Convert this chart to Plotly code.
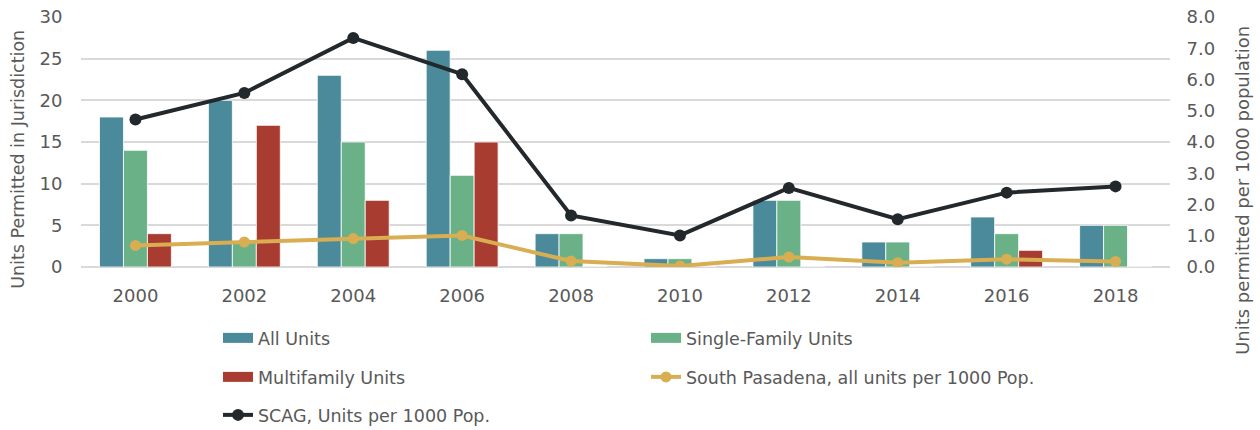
import plotly.graph_objects as go

years = ["2000", "2002", "2004", "2006", "2008", "2010", "2012", "2014", "2016", "2018"]
all_units = [18, 20, 23, 26, 4, 1, 8, 3, 6, 5]
single_family = [14, 3, 15, 11, 4, 1, 8, 3, 4, 5]
multifamily = [4, 17, 8, 15, 0, 0, 0, 0, 2, 0]
south_pasadena = [0.69, 0.80, 0.91, 1.01, 0.19, 0.03, 0.32, 0.14, 0.25, 0.18]
scag = [4.72, 5.57, 7.33, 6.17, 1.65, 1.01, 2.53, 1.53, 2.38, 2.58]

C_ALL = "#4A8A9A"
C_SF = "#6AB187"
C_MF = "#A93C30"
C_SP = "#D9AE52"
C_SCAG = "#22282B"
TXT = "#595959"
FONT = "DejaVu Sans, Verdana, sans-serif"

fig = go.Figure()
bar_line = dict(color="white", width=0.8)
fig.add_trace(go.Bar(x=years, y=all_units, name="All Units", marker=dict(color=C_ALL, line=bar_line), showlegend=False))
fig.add_trace(go.Bar(x=years, y=single_family, name="Single-Family Units", marker=dict(color=C_SF, line=bar_line), showlegend=False))
fig.add_trace(go.Bar(x=years, y=multifamily, name="Multifamily Units", marker=dict(color=C_MF, line=bar_line), showlegend=False))

# legend-only entries for the bar series (wide rectangular swatches)
for nm, col, lg, rk in [("All Units", C_ALL, "legend", 1), ("Single-Family Units", C_SF, "legend", 2),
                        ("Multifamily Units", C_MF, "legend2", 1)]:
    fig.add_trace(go.Scatter(x=[None], y=[None], mode="lines", name=nm, line=dict(color=col, width=10),
                             legend=lg, legendrank=rk, hoverinfo="skip"))

fig.add_trace(go.Scatter(x=years, y=south_pasadena, name="South Pasadena, all units per 1000 Pop.", yaxis="y2",
                         mode="lines+markers", line=dict(color=C_SP, width=4), marker=dict(size=11, color=C_SP),
                         legend="legend2", legendrank=2))
fig.add_trace(go.Scatter(x=years, y=scag, name="SCAG, Units per 1000 Pop.", yaxis="y2",
                         mode="lines+markers", line=dict(color=C_SCAG, width=4), marker=dict(size=12, color=C_SCAG),
                         legend="legend3", legendrank=1))

legfont = dict(family=FONT, size=17.5, color=TXT)
legcommon = dict(orientation="h", xanchor="left", yanchor="middle", entrywidth=383, entrywidthmode="pixels",
                 font=legfont, bgcolor="rgba(0,0,0,0)", traceorder="normal")

tick_hide = "rgba(0,0,0,0)"
fig.update_layout(
    width=1260, height=430,
    margin=dict(l=81, r=90, t=17, b=163, autoexpand=False),
    paper_bgcolor="white", plot_bgcolor="white",
    barmode="group", bargap=0.34, bargroupgap=0,
    font=dict(family=FONT, color=TXT),
    xaxis=dict(type="category", tickfont=dict(size=18, color=TXT), showgrid=False, showline=False,
               ticks="outside", ticklen=12, tickcolor=tick_hide, range=[-0.5, 9.5]),
    yaxis=dict(range=[0, 30], dtick=5, showgrid=True, gridcolor="#D9D9D9", gridwidth=1.5,
               zeroline=True, zerolinecolor="#D9D9D9", zerolinewidth=1.5,
               tickfont=dict(size=18, color=TXT), ticks="outside", ticklen=14, tickcolor=tick_hide),
    yaxis2=dict(range=[0, 8], dtick=1, tickformat=".1f", overlaying="y", side="right", showgrid=False,
                zeroline=False, tickfont=dict(size=18, color=TXT), ticks="outside", ticklen=12, tickcolor=tick_hide),
    legend=dict(x=0.1258, y=-0.284, **legcommon),
    legend2=dict(x=0.1258, y=-0.44, **legcommon),
    legend3=dict(x=0.1258, y=-0.592, **legcommon),
    showlegend=True,
    annotations=[
        dict(text="Units Permitted in Jurisdiction", xref="paper", yref="paper", x=-0.058, y=0.432,
             xanchor="center", yanchor="middle", textangle=-90, showarrow=False,
             font=dict(family=FONT, size=17.5, color=TXT)),
        dict(text="Units permitted per 1000 population", xref="paper", yref="paper", x=1.066, y=0.308,
             xanchor="center", yanchor="middle", textangle=-90, showarrow=False,
             font=dict(family=FONT, size=18, color=TXT)),
    ],
)

fig.write_html("out.html", config={"displayModeBar": False},
               post_script="document.body.style.margin='0';document.body.style.padding='0';")
